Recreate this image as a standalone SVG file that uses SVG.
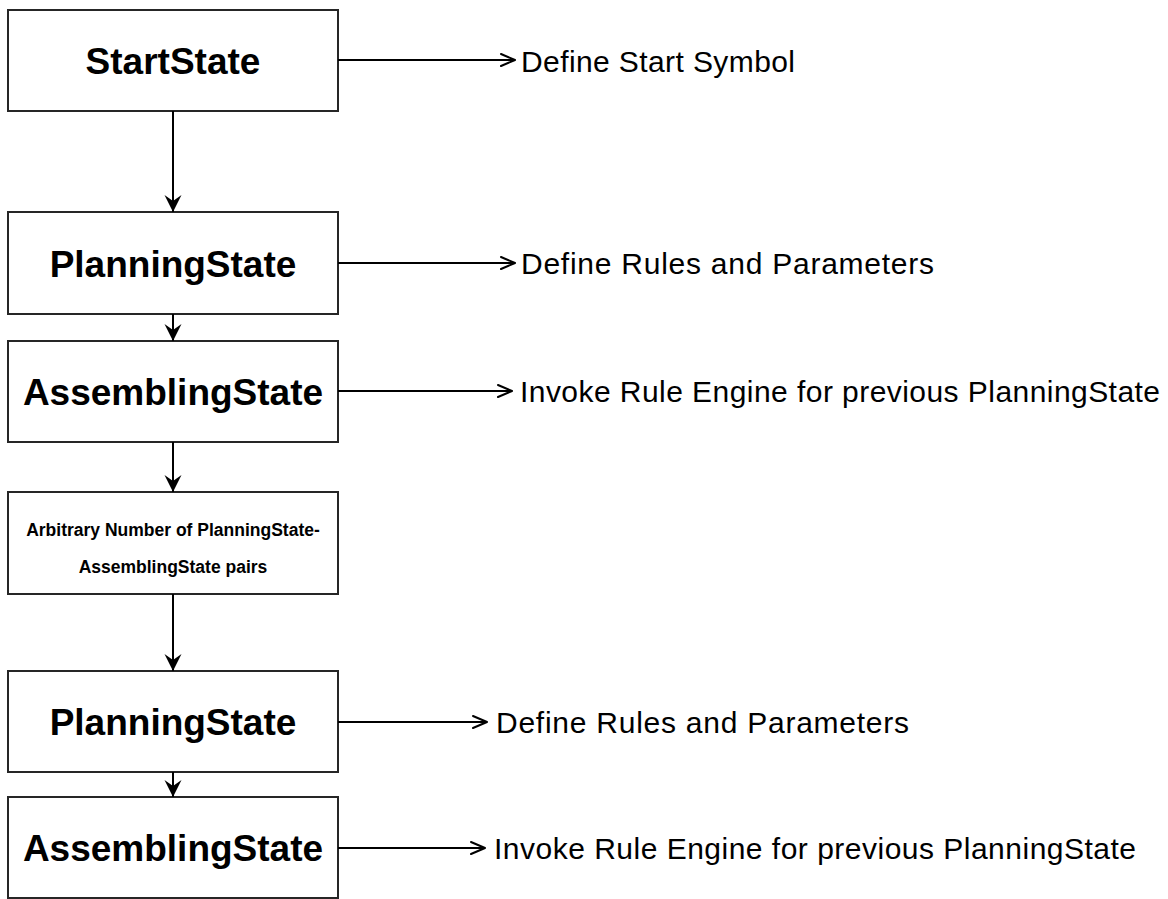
<svg xmlns="http://www.w3.org/2000/svg" width="1168" height="899" viewBox="0 0 1168 899">
  <defs>
    <style>
      .box { fill: #ffffff; stroke: #262626; stroke-width: 2; }
      .title { font-family: "Liberation Sans", Arial, sans-serif; font-weight: bold; font-size: 37px; fill: #000; text-anchor: middle; }
      .small { font-family: "Liberation Sans", Arial, sans-serif; font-weight: bold; font-size: 17.5px; fill: #000; text-anchor: middle; }
      .note { font-family: "Liberation Sans", Arial, sans-serif; font-size: 30px; fill: #000; }
      .flow { stroke: #000; stroke-width: 2; fill: none; marker-end: url(#solidHead); }
      .link { stroke: #000; stroke-width: 2; fill: none; marker-end: url(#openHead); }
    </style>
    <!-- filled, notched head for the state-to-state flow -->
    <marker id="solidHead" markerUnits="userSpaceOnUse" markerWidth="20" markerHeight="20" viewBox="-18 -10 20 20" refX="0" refY="0" orient="auto">
      <path d="M0,0 L-17,-8.5 L-11,0 L-17,8.5 Z" fill="#000"/>
    </marker>
    <!-- open chevron head for the links to the notes -->
    <marker id="openHead" markerUnits="userSpaceOnUse" markerWidth="20" markerHeight="20" viewBox="-18 -10 20 20" refX="0" refY="0" orient="auto">
      <path d="M-14,-6 L0,0 L-14,6" fill="none" stroke="#000" stroke-width="2" stroke-linecap="round" stroke-linejoin="round"/>
    </marker>
  </defs>

  <!-- state boxes -->
  <g id="start-state">
    <rect class="box" x="8" y="10" width="330" height="101"/>
    <text class="title" x="173" y="74">StartState</text>
  </g>
  <g id="planning-state-1">
    <rect class="box" x="8" y="212" width="330" height="102"/>
    <text class="title" x="173" y="276.5">PlanningState</text>
  </g>
  <g id="assembling-state-1">
    <rect class="box" x="8" y="341" width="330" height="101"/>
    <text class="title" x="173" y="405">AssemblingState</text>
  </g>
  <g id="arbitrary-pairs">
    <rect class="box" x="8" y="492" width="330" height="102"/>
    <text class="small" x="173" y="536">Arbitrary Number of PlanningState-</text>
    <text class="small" x="173" y="572.5">AssemblingState pairs</text>
  </g>
  <g id="planning-state-2">
    <rect class="box" x="8" y="671" width="330" height="101"/>
    <text class="title" x="173" y="735">PlanningState</text>
  </g>
  <g id="assembling-state-2">
    <rect class="box" x="8" y="797" width="330" height="101"/>
    <text class="title" x="173" y="861">AssemblingState</text>
  </g>

  <!-- side notes -->
  <g id="note-1"><text class="note" x="521" y="72" textLength="274" lengthAdjust="spacing">Define Start Symbol</text></g>
  <g id="note-2"><text class="note" x="521" y="274" textLength="413" lengthAdjust="spacing">Define Rules and Parameters</text></g>
  <g id="note-3"><text class="note" x="520" y="402" textLength="640" lengthAdjust="spacing">Invoke Rule Engine for previous PlanningState</text></g>
  <g id="note-5"><text class="note" x="496" y="733" textLength="413" lengthAdjust="spacing">Define Rules and Parameters</text></g>
  <g id="note-6"><text class="note" x="494" y="859" textLength="642" lengthAdjust="spacing">Invoke Rule Engine for previous PlanningState</text></g>

  <!-- connectors -->
  <g id="connectors">
    <!-- vertical flow between states -->
    <path class="flow" d="M173,111 V212"/>
    <path class="flow" d="M173,314 V341"/>
    <path class="flow" d="M173,442 V492"/>
    <path class="flow" d="M173,594 V671"/>
    <path class="flow" d="M173,772 V797"/>

    <!-- horizontal links to the notes -->
    <path class="link" d="M338,60 H515"/>
    <path class="link" d="M338,263 H515"/>
    <path class="link" d="M338,391 H512"/>
    <path class="link" d="M338,722 H487"/>
    <path class="link" d="M338,848 H485"/>
  </g>
</svg>
